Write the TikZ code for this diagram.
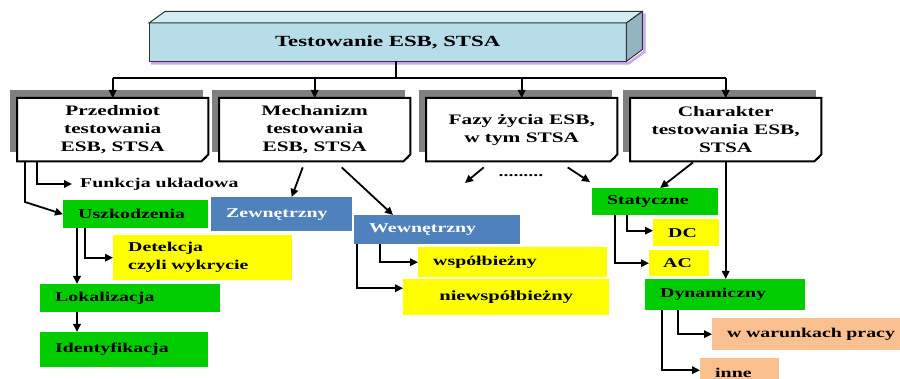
\documentclass[tikz,border=0pt]{standalone}
\usepackage{fontspec}
\newfontfamily\bfont[FakeStretch=1.47,UprightFont=* Bold]{Liberation Serif}
\usetikzlibrary{arrows.meta,backgrounds}
\definecolor{grn}{HTML}{00CC00}
\definecolor{blu}{HTML}{4F81BD}
\definecolor{yel}{HTML}{FFFF00}
\definecolor{sal}{HTML}{FAC090}
\definecolor{tfront}{HTML}{B7DDE8}
\definecolor{ttop}{HTML}{D2ECF3}
\definecolor{tside}{HTML}{93B5C0}
\definecolor{tedge}{HTML}{333333}
\definecolor{violetsh}{HTML}{C9A6EE}
\definecolor{shadgray}{HTML}{808080}
\newcommand\foldbox[1]{%
  \draw[line width=2pt, line join=miter] (#1.north west) -- (#1.north east) -- ([yshift=7pt]#1.south east) -- ([xshift=-7pt]#1.south east) -- (#1.south west) -- cycle;
  \fill ([yshift=7pt]#1.south east) -- ([xshift=-7pt]#1.south east) -- ([xshift=-2pt,yshift=3pt]#1.south east) -- cycle;}
\newcommand\shadbox[1]{%
  \fill[shadgray] ([xshift=-7pt,yshift=8pt]#1.north west) rectangle ([xshift=-5pt,yshift=9pt]#1.south east);}
\begin{document}
\begin{tikzpicture}[x=1pt,y=-1pt,
  arr/.style={line width=1.8pt, -{Triangle[length=8pt,width=7.5pt]}},
  ln/.style={line width=1.8pt},
  lbox/.style={anchor=north west, inner xsep=15pt, inner ysep=0pt, align=left, font=\bfont\fontsize{13.5}{18}\selectfont},
  ltwo/.style={anchor=north west, fill=white, minimum width=191pt, minimum height=63pt, align=center, inner sep=0pt, font=\bfont\fontsize{14.5}{18}\selectfont}]
\useasboundingbox (0,0) rectangle (900,379);
\clip (0,0) rectangle (900,379);

% title
\node[anchor=north west, fill=tfront, minimum width=477pt, minimum height=38pt, inner sep=0pt, font=\bfont\fontsize{15.5}{18}\selectfont] (top) at (149,23) {Testowanie ESB, STSA};
\begin{scope}[on background layer]
\draw[violetsh, line width=2.5pt] ([xshift=2pt,yshift=-2pt]top.south west) -- ([xshift=2pt,yshift=-2pt]top.south east) -- ([xshift=18pt,yshift=9.5pt]top.south east) -- ([xshift=18pt,yshift=9.5pt]top.north east);
\end{scope}
\draw[tedge, line width=1pt] (top.north west) rectangle (top.south east);
\draw[tedge, line width=1pt, fill=ttop] (top.north west) -- ++(16,-11.5) -- ++(477,0) -- (top.north east) -- cycle;
\draw[tedge, line width=1pt, fill=tside] (top.north east) -- ++(16,-11.5) -- ++(0,38) -- (top.south east) -- cycle;

% level 2
\node[ltwo] (p1) at (17,98) {Przedmiot\\testowania\\ESB, STSA};
\node[ltwo] (p2) at (219,98) {Mechanizm\\testowania\\ESB, STSA};
\node[ltwo] (p3) at (426,98) {Fazy życia ESB,\\w tym STSA};
\node[ltwo] (p4) at (630,98) {Charakter\\testowania ESB,\\STSA};
\begin{scope}[on background layer]
\shadbox{p1}\shadbox{p2}\shadbox{p3}\shadbox{p4}
\end{scope}
\foldbox{p1}\foldbox{p2}\foldbox{p3}\foldbox{p4}

% bus
\coordinate (bus) at (396,78);
\draw[ln] (top.south -| bus) -- (bus);
\draw[ln] (p1.north |- bus) -- (p4.north |- bus);
\foreach \p in {p1,p2,p3,p4} \draw[arr] (\p.north |- bus) -- (\p.north);

% level 3 boxes
\node[lbox, anchor=west, inner xsep=8pt] (fun) at (72,184) {Funkcja układowa};
\node[lbox, fill=grn, text width=115pt, minimum height=28pt] (usz) at (63,200) {Uszkodzenia};
\node[lbox, fill=blu, text=white, text width=111pt, minimum height=34pt] (zew) at (211,197) {Zewnętrzny};
\node[lbox, fill=yel, text width=149pt, minimum height=45pt] (det) at (113,235) {Detekcja\\czyli wykrycie};
\node[lbox, fill=grn, text width=150pt, minimum height=28pt] (lok) at (40,284) {Lokalizacja};
\node[lbox, fill=grn, text width=138pt, minimum height=35pt] (ide) at (40,332) {Identyfikacja};
\node[lbox, fill=blu, text=white, text width=136pt, minimum height=29pt] (wew) at (354,215) {Wewnętrzny};
\node[lbox, fill=yel, text width=159pt, minimum height=30pt] (wsp) at (418,247) {współbieżny};
\node[lbox, fill=yel, align=center, inner xsep=0pt, minimum width=206pt, minimum height=36pt, font=\bfont\fontsize{14}{18}\selectfont] (niew) at (403,279) {\raisebox{-4pt}{niewspółbieżny}};
\node[lbox, fill=grn, text width=96pt, minimum height=27pt] (stat) at (592,188) {Statyczne};
\node[lbox, fill=yel, text width=36pt, minimum height=27pt] (dc) at (653,219) {DC};
\node[lbox, fill=yel, text width=32pt, minimum height=26pt, inner xsep=14pt] (ac) at (649,250) {AC};
\node[lbox, fill=grn, text width=130pt, minimum height=31pt] (dyn) at (645,279) {Dynamiczny};
\node[lbox, fill=sal, text width=190pt, minimum height=32pt] (ww) at (712,318) {w warunkach pracy};
\node[lbox, fill=sal, text width=49pt, minimum height=30pt] (inne) at (700,358) {inne};
\node[font=\bfont\fontsize{13.5}{18}\selectfont, inner sep=0pt] (dots) at (521,176) {.........};

% connectors
\draw[arr] ([xshift=20pt]p1.south west) |- (fun.west);
\draw[arr] ([xshift=8pt]p1.south west) -- ([xshift=8pt]p1.south west |- 0,202) -- (usz.west);
\draw[arr] ([xshift=14pt]usz.south west) -- ([xshift=14pt]usz.south west |- lok.north);
\draw[arr] ([xshift=22pt]usz.south west) |- (det.west);
\draw[arr] ([xshift=37pt]lok.south west) -- ([xshift=37pt]lok.south west |- ide.north);
\draw[arr] ([xshift=-12pt,yshift=-6pt]p2.south) -- ([xshift=10pt]zew.north);
\draw[arr] ([xshift=27pt,yshift=-6pt]p2.south) -- ([xshift=39pt]wew.north west);
\draw[arr] ([xshift=26pt]wew.south west) |- (wsp.west);
\draw[arr] ([xshift=3pt]wew.south west) |- ([yshift=9pt]niew.west);
\coordinate (f1) at (465,183);
\coordinate (f2) at (590,182);
\draw[arr] ([xshift=-38pt,yshift=-6pt]p3.south) -- (f1);
\draw[arr] ([xshift=46pt,yshift=-6pt]p3.south) -- (f2);
\draw[arr] ([xshift=63pt,yshift=-1pt]p4.south west) -- ([xshift=5pt]stat.north);
\draw[arr] (p4.south) -- (p4.south |- dyn.north);
\draw[arr] ([xshift=35pt]stat.south west) |- ([yshift=2pt]dc.west);
\draw[arr] ([xshift=23pt]stat.south west) |- (ac.west);
\draw[arr] ([xshift=33pt]dyn.south west) |- (ww.west);
\draw[arr] ([xshift=17pt]dyn.south west) |- ([yshift=3pt]inne.west);
\end{tikzpicture}
\end{document}
